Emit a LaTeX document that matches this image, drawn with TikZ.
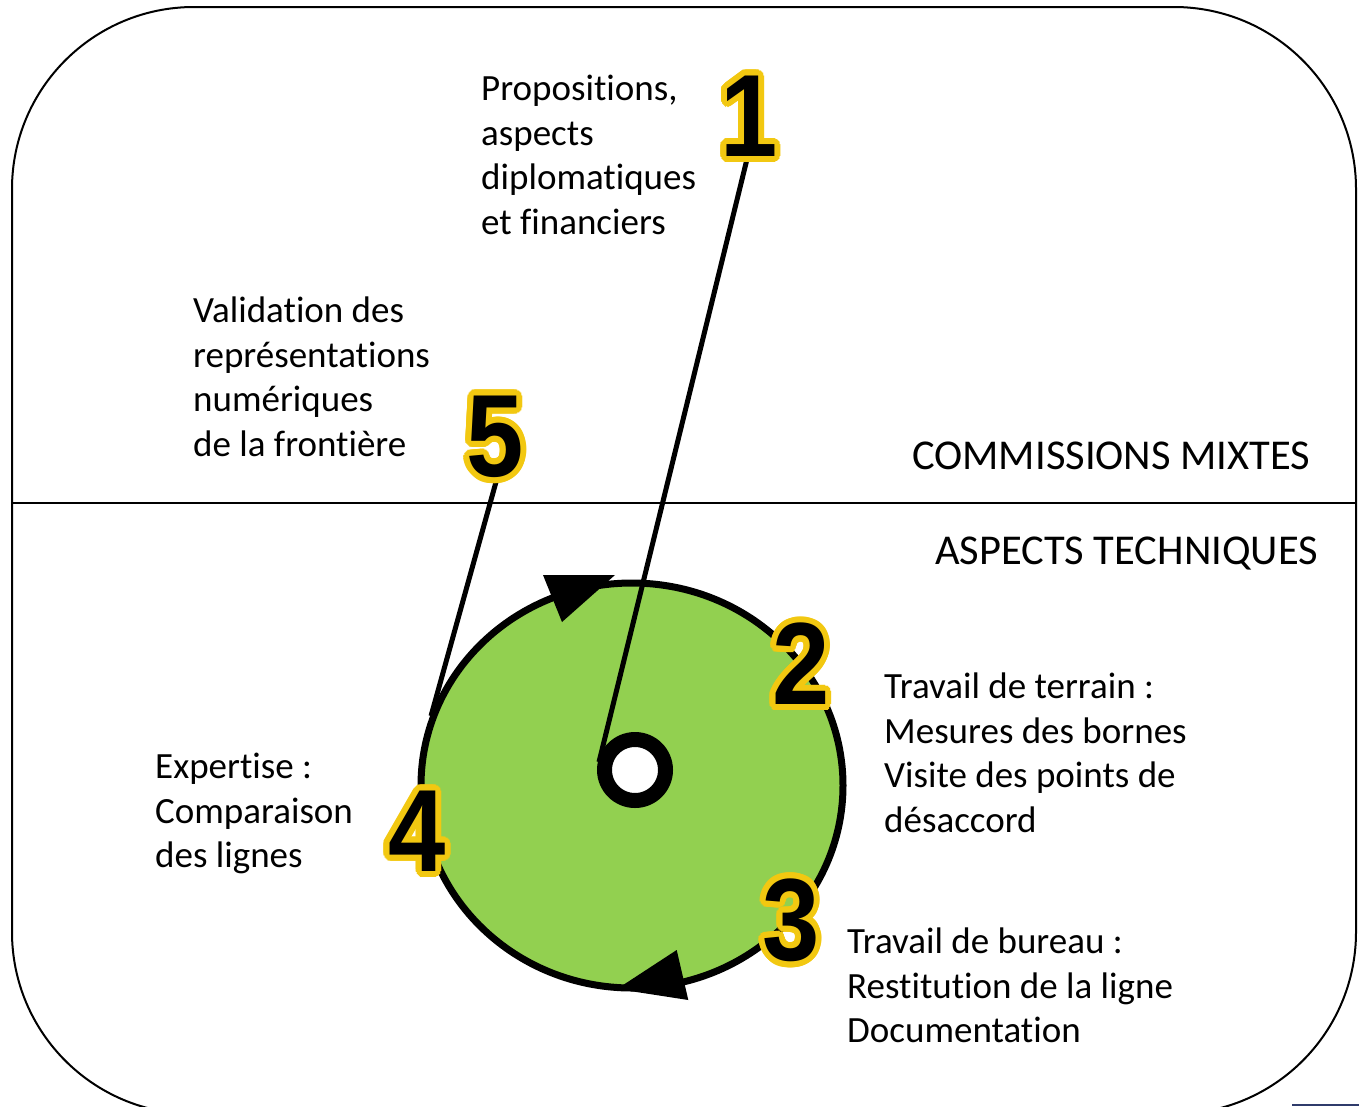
\documentclass[tikz,border=0pt]{standalone}
\usepackage{fontspec}
\setmainfont{Carlito}[Ligatures={NoCommon}, RawFeature={-liga;-clig;-dlig}]
\newfontfamily\numfont{Liberation Sans}
\definecolor{cgreen}{HTML}{92D050}
\definecolor{nyellow}{HTML}{F2C811}
\definecolor{navyline}{HTML}{2F3B6B}
\newcommand\outdigit[1]{%
  \scalebox{0.88}[1]{%
  \rlap{\color{nyellow}\foreach \a in {0,15,...,345}{%
    \pgfmathsetlengthmacro\dx{6.5pt*cos(\a)}%
    \pgfmathsetlengthmacro\dy{6pt*sin(\a)}%
    \rlap{\kern\dx\raisebox{\dy}{#1}}}}%
  #1}}
\tikzset{
  lbl/.style={anchor=base west, align=left, inner sep=0pt, font=\fontsize{37}{44.6}\selectfont},
  caplbl/.style={anchor=base west, inner sep=0pt, font=\fontsize{42.5}{44}\selectfont},
  numlbl/.style={inner sep=0pt, font=\numfont\bfseries\fontsize{117}{117}\selectfont},
  link/.style={line width=5pt},
  frame/.style={line width=2pt},
  arrowhead/.style={fill=black},
}
\begin{document}
\begin{tikzpicture}[x=1pt,y=-1pt]
\useasboundingbox (0,0) rectangle (1359,1106);
\clip (0,0) rectangle (1359,1106);
% frame
\draw[frame, rounded corners=182pt] (12,7) rectangle (1356,1114);
\draw[frame] (12,503) -- (1356,503);
\draw[navyline, line width=1.5pt] (1292,1105) -- (1359,1105);
% connector from 5 to circle edge
\coordinate (e5a) at (496,482);
\coordinate (e5b) at (431,716);
\draw[link] (e5a) -- (e5b);
% cycle
\draw[line width=7pt, fill=cgreen] (632,785.5) ellipse [x radius=211pt, y radius=202.5pt];
\fill[arrowhead] (543,575) -- (615,575) -- (562,622) -- cycle;
\fill[arrowhead] (676.7,950) -- (688.3,1000) -- (617,989) -- cycle;
% connector from 1 to hub
\coordinate (e1a) at (748,155);
\coordinate (e1b) at (599,762);
\draw[link] (e1a) -- (e1b);
\node[draw, line width=15pt, fill=white, circle, minimum size=61pt, inner sep=0pt] (hub) at (635,770) {};
% numbers
\node[numlbl] (n1) at (749,116) {\outdigit{1}};
\node[numlbl] (n5) at (495,437) {\outdigit{5}};
\node[numlbl] (n2) at (801,664) {\outdigit{2}};
\node[numlbl] (n3) at (791,920) {\outdigit{3}};
\node[numlbl] (n4) at (417,831) {\outdigit{4}};
% texts (anchor = baseline of the last line)
\node[lbl] (t1) at (481,234.3) {Propositions,\\aspects\\diplomatiques\\et financiers};
\node[lbl] (t5) at (193,456.3) {Validation des\\représentations\\numériques\\de la frontière};
\node[caplbl] (cm) at (912,469.5) {COMMISSIONS MIXTES};
\node[caplbl] (at) at (935,564) {ASPECTS TECHNIQUES};
\node[lbl] (t2) at (884,832.3) {Travail de terrain :\\Mesures des bornes\\Visite des points de\\désaccord};
\node[lbl] (t4) at (155,867.7) {Expertise :\\Comparaison\\des lignes};
\node[lbl] (t3) at (847,1042.7) {Travail de bureau :\\Restitution de la ligne\\Documentation};
\end{tikzpicture}
\end{document}
